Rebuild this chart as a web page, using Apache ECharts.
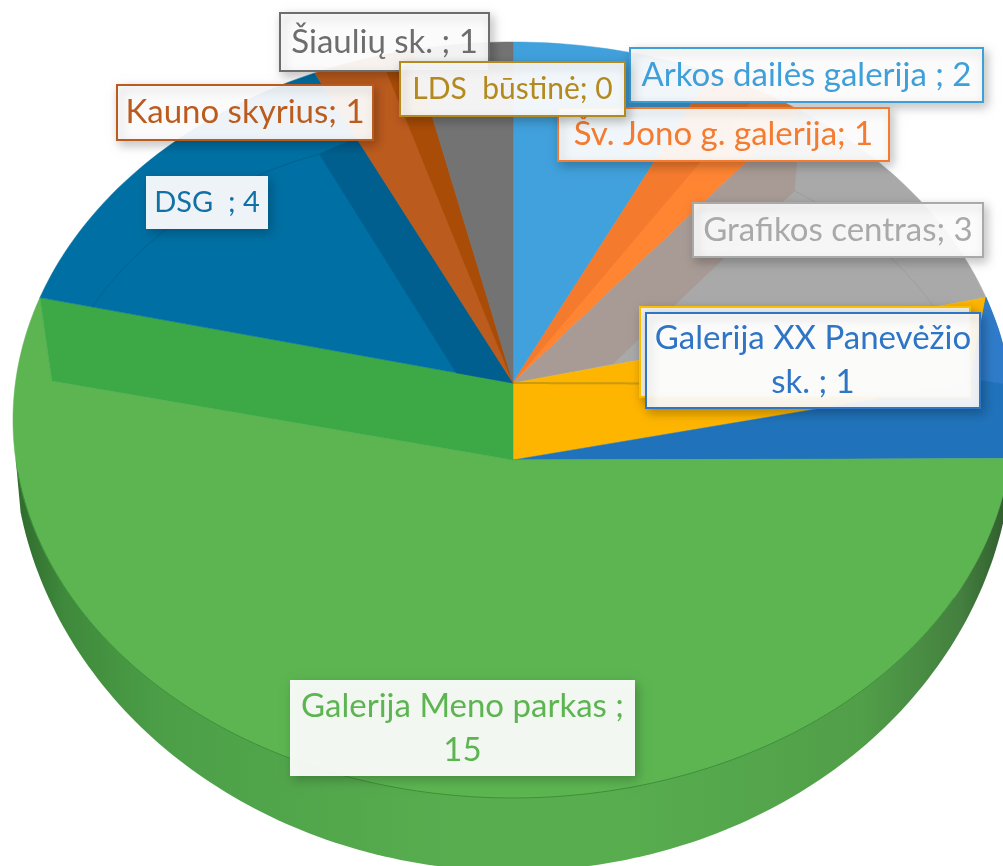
<!DOCTYPE html>
<html>
<head>
<meta charset="utf-8">
<title>Galerijos</title>
<script src="https://cdn.jsdelivr.net/npm/echarts@6/dist/echarts.min.js"></script>
<style>
  html, body { margin: 0; padding: 0; background: #fff; }
  #main { width: 1003px; height: 866px; }
</style>
</head>
<body>
<div id="main"></div>
<script>
// slices, clockwise from twelve o'clock (the name of the 4th is hidden behind the next label)
const categories = ['Arkos dailės galerija ', 'Šv. Jono g. galerija', 'Grafikos centras', '', 'Galerija XX Panevėžio sk. ', 'Galerija Meno parkas ', 'DSG  ', 'Kauno skyrius', 'Šiaulių sk. ', 'LDS  būstinė'];
const values = [2, 1, 3, 1, 1, 15, 4, 1, 1, 0];
const sliceColors = ['#41A1DC', '#FF8533', '#A9A9A9', '#FDB500', '#2072BA', '#5CB551', '#006FA3', '#BC5B1E', '#737373', '#B48A1E'];
const labelColors = ['#3E9FD9', '#F47B30', '#A9A9A9', '#FFC000', '#2E75C6', '#5CB551', '#1170A6', '#BC5B1E', '#6D6D6D', '#B48A1E'];

// layout of the tilted pie
const center = { x: 513, y: 420, rx: 500, ry: 378 };
const body = { y: 437, rx: 500, ry: 434 };
const apexBack = { x: 513, y: 383 };
const apexFront = { x: 513, y: 460 };
const yellowCorner = 0.92;

// label boxes, same order as categories
const labelBoxes = [
  { x: 630, y: 48, w: 353, h: 54 },
  { x: 558, y: 108, w: 331, h: 53 },
  { x: 693, y: 203, w: 290, h: 54 },
  { x: 640, y: 307, w: 330, h: 90 },
  { x: 646, y: 313, w: 334, h: 95, wrapBefore: 'sk.' },
  { x: 290, y: 680, w: 345, h: 96, wrapBefore: '15', border: 0 },
  { x: 146, y: 176, w: 122, h: 53, border: 0, fontSize: 29 },
  { x: 117, y: 85, w: 256, h: 55 },
  { x: 280, y: 13, w: 209, h: 58 },
  { x: 400, y: 62, w: 225, h: 54, fontSize: 30 }
];

// inner faces of the slices, as [fraction across slice, fraction of radius] from the back apex
const walls = [
  { slice: 1, color: '#F47A2E', pts: [[0, 0], [0, 1], [0.53, 1]] },
  { slice: 2, color: '#A89B96', pts: [[0, 0], [0, 1], [0.24, 0.814], [0.975, 0.213]] },
  { slice: 4, color: '#2F7BC9', pts: [[-0.99, 1], [-0.6, 1], [-0.3, 1], [0.1, 1], [0.02, 0.92]] },
  { slice: 6, color: '#005F8E', pts: [[1, 0], [1, 0.79], [0.87, 0.785], [0, 0.12]] },
  { slice: 7, color: '#A94C07', pts: [[1, 0], [1, 1], [0.68, 1]] }
];
const seams = [
  { slice: 2, color: '#9E9E9E', from: [0.24, 0.814], to: [1, 0.89] },
  { slice: 3, color: '#C99A12', from: [1.1, 0], to: [1.1, 0.26], width: 2 },
  { slice: 6, color: '#00628F', from: [0, 0.89], to: [0.87, 0.785] }
];

const total = values.reduce((a, b) => a + b, 0);
const starts = [];
values.reduce((sum, v, i) => { starts[i] = sum; return sum + v; }, 0);

// value position -> angle on the rim, far side is squeezed a little by the perspective
function angleOf (pos) {
  const deg = pos / total * 360;
  return deg - 3.5 * Math.sin(deg * Math.PI / 180);
}
function rim (deg) {
  const r = deg * Math.PI / 180;
  return [center.x + center.rx * Math.sin(r), center.y - center.ry * Math.cos(r)];
}
function sliceAngle (i, u) {
  const a = angleOf(starts[i]);
  const b = angleOf(starts[i] + values[i]);
  return a + (b - a) * u;
}
function slicePoint (i, u, k, apex) {
  const p = rim(sliceAngle(i, u));
  return [apex.x + (p[0] - apex.x) * k, apex.y + (p[1] - apex.y) * k];
}
function rimArc (a, b) {
  const pts = [];
  const n = Math.max(2, Math.ceil(Math.abs(b - a)));
  for (let j = 0; j <= n; j++) pts.push(rim(a + (b - a) * j / n));
  return pts;
}
function poly (points, fill) {
  return { type: 'polygon', shape: { points: points }, style: { fill: fill, stroke: fill, lineWidth: 0.5 } };
}
function seamLine (s) {
  const pts = [];
  for (let j = 0; j <= 20; j++) {
    const t = j / 20;
    pts.push(slicePoint(s.slice, s.from[0] + (s.to[0] - s.from[0]) * t, s.from[1] + (s.to[1] - s.from[1]) * t, apexBack));
  }
  return { type: 'polyline', shape: { points: pts }, style: { fill: null, stroke: s.color, lineWidth: s.width || 1 } };
}

// front wall of the pie, only the part under the rim
function bodyShape () {
  const pts = [rim(96)];
  for (let deg = 100; deg <= 260; deg += 1) {
    const r = deg * Math.PI / 180;
    pts.push([center.x + body.rx * Math.sin(r), body.y - body.ry * Math.cos(r)]);
  }
  pts.push(rim(264));
  return {
    type: 'polygon',
    shape: { points: pts },
    style: {
      fill: new echarts.graphic.LinearGradient(0, 0, 1, 0, [
        { offset: 0, color: '#2F6A2D' },
        { offset: 0.05, color: '#3F8A3C' },
        { offset: 0.15, color: '#4C9F47' },
        { offset: 0.45, color: '#58AE4F' },
        { offset: 0.6, color: '#58AE4F' },
        { offset: 0.85, color: '#519F49' },
        { offset: 0.95, color: '#44803F' },
        { offset: 1, color: '#2F5A2C' }
      ])
    }
  };
}

function renderSlice (params, api) {
  const i = api.value(0);
  const children = [];
  if (!api.value(1)) return { type: 'group', children: children };

  const a = sliceAngle(i, 0);
  const b = sliceAngle(i, 1);
  if (i === 3) {
    // yellow one runs between both apexes
    const corner = slicePoint(3, 1, yellowCorner, apexFront);
    children.push(poly([[apexBack.x, apexBack.y], rim(a), corner, [apexFront.x, apexFront.y]], sliceColors[i]));
  } else if (i === 4) {
    const corner = slicePoint(3, 1, yellowCorner, apexFront);
    children.push(poly([[apexFront.x, apexFront.y], corner].concat(rimArc(sliceAngle(3, 0), b)), sliceColors[i]));
  } else if (i === 5) {
    children.push(bodyShape());
    const corner = slicePoint(5, 0.933, 0.927, apexBack);
    children.push(poly([[apexFront.x, apexFront.y]].concat(rimArc(a, b), [corner]), sliceColors[i]));
    children.push(poly([[apexBack.x, apexBack.y], rim(b), corner, [apexFront.x, apexFront.y]], '#3DA846'));
    children.push({
      type: 'polyline',
      shape: { points: rimArc(118, 262) },
      style: { fill: null, stroke: '#3E8F3A', lineWidth: 1 }
    });
  } else {
    children.push(poly([[apexBack.x, apexBack.y]].concat(rimArc(a, b)), sliceColors[i]));
  }
  walls.filter(w => w.slice === i).forEach(w => {
    children.push(poly(w.pts.map(p => slicePoint(i, p[0], p[1], apexBack)), w.color));
  });
  seams.filter(s => s.slice === i).forEach(s => children.push(seamLine(s)));
  return { type: 'group', children: children };
}

function renderLabel (params, api) {
  const i = api.value(0);
  const box = labelBoxes[i];
  const color = labelColors[i];
  let text = categories[i] ? categories[i] + '; ' + api.value(1) : '';
  if (box.wrapBefore) {
    const at = text.lastIndexOf(box.wrapBefore);
    text = text.slice(0, at).trimEnd() + '\n' + text.slice(at);
  }
  return {
    type: 'group',
    children: [
      {
        type: 'rect',
        shape: { x: box.x, y: box.y, width: box.w, height: box.h },
        style: {
          fill: 'rgba(255,255,255,0.93)',
          stroke: box.border === 0 ? null : color,
          lineWidth: box.border === 0 ? 0 : 2,
          shadowBlur: 10,
          shadowOffsetX: 3,
          shadowOffsetY: 4,
          shadowColor: 'rgba(0,0,0,0.25)'
        }
      },
      {
        type: 'text',
        style: {
          text: text,
          x: box.x + box.w / 2,
          y: box.y + box.h / 2,
          align: 'center',
          verticalAlign: 'middle',
          lineHeight: 44,
          fill: color,
          font: (box.fontSize || 33) + 'px Lato'
        }
      }
    ]
  };
}

const rows = values.map((v, i) => [i, v]);
const chart = echarts.init(document.getElementById('main'));
chart.setOption({
  animation: false,
  backgroundColor: '#fff',
  series: [
    { type: 'custom', coordinateSystem: 'none', renderItem: renderSlice, data: rows, silent: true, z: 1 },
    { type: 'custom', coordinateSystem: 'none', renderItem: renderLabel, data: rows, silent: true, z: 2 }
  ]
});
</script>
</body>
</html>
